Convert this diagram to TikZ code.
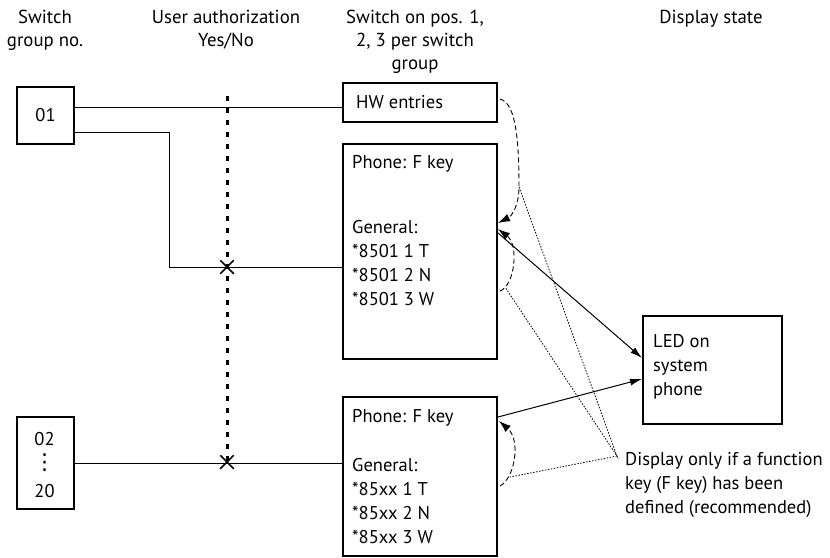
\documentclass[tikz,border=0pt]{standalone}
\usepackage{fontspec}
\setmainfont{PT Sans}
\newfontfamily\symfont{DejaVu Sans}
\usetikzlibrary{arrows.meta,shapes.misc}
\newcommand\mylinesL[1]{\begin{tabular}[t]{@{}l@{}}#1\end{tabular}}
\newcommand\mylinesC[1]{\begin{tabular}[t]{@{}c@{}}#1\end{tabular}}
\begin{document}
\begin{tikzpicture}[x=1pt,y=-1pt,
  every node/.style={font=\fontsize{18.5}{24}\selectfont, inner sep=0pt},
  box/.style={draw, line width=2pt, anchor=north west},
  txt/.style={anchor=base west},
  head/.style={anchor=base, font=\fontsize{18.8}{23}\selectfont},
  conn/.style={line width=1pt},
  authline/.style={line width=3pt, dash pattern=on 4.5pt off 7.5pt},
  brace/.style={line width=0.9pt, dash pattern=on 5pt off 3pt, -{Latex[length=12pt,width=8pt]}},
  hint/.style={line width=0.8pt, dash pattern=on 1.5pt off 1.5pt},
  signal/.style={line width=1pt, -{Latex[length=12pt,width=7pt]}},
  crossmark/.style={draw, cross out, minimum size=12pt, line width=1.5pt},
]
\useasboundingbox (0,0) rectangle (830,557);

% headers
\node[head] (h1) at (45,23) {\mylinesC{Switch\\group no.}};
\node[head] (h2) at (226,23) {\mylinesC{User authorization\\Yes/No}};
\node[head] (h3) at (415,23) {\mylinesC{Switch on pos. 1,\\2, 3 per switch\\group}};
\node[head] (h4) at (711,23) {Display state};

% switch group boxes
\node[box, minimum width=57pt, minimum height=57pt] (g1) at (16,86) {};
\node (g1t) at (g1.center) {01};
\node[box, minimum width=57pt, minimum height=92pt] (g2) at (16,416) {};
\node[anchor=base] (g2a) at (44.5,445) {02};
\node (g2b) at (44.5,463) {\symfont\fontsize{22}{22}\selectfont ⋮};
\node[anchor=base] (g2c) at (44.5,497) {20};

% switch boxes
\node[box, minimum width=154pt, minimum height=39pt] (hw) at (342,82) {};
\node[txt] (hwt) at (356,108) {HW entries};
\node[box, minimum width=154pt, minimum height=215pt] (p1) at (342,143) {};
\node[txt] (p1a) at (352,168) {Phone: F key};
\node[txt] (p1b) at (352,233) {\mylinesL{General:\\{*}8501 1 T\\{*}8501 2 N\\{*}8501 3 W}};
\node[box, minimum width=154pt, minimum height=159pt] (p2) at (342,396) {};
\node[txt] (p2a) at (352,422) {Phone: F key};
\node[txt] (p2b) at (352,471) {\mylinesL{General:\\{*}85xx 1 T\\{*}85xx 2 N\\{*}85xx 3 W}};

% display
\node[box, minimum width=139pt, minimum height=108pt] (led) at (642,315) {};
\node[txt] (ledt) at (653,347) {\mylinesL{LED on\\system\\phone}};
\node[txt] (note) at (625,465) {\mylinesL{Display only if a function\\key (F key) has been\\defined (recommended)}};

% authorization line and crosses
\coordinate (authtop) at (227,96);
\coordinate (corner) at (169,267);
\node[crossmark] (x1) at (227,267) {};
\node[crossmark] (x2) at (227,462) {};
\draw[authline] (authtop) -- (x2.center);

% connectors from switch groups
\draw[conn] ([yshift=8.5pt]g1.east) -- ([yshift=8.5pt]g1.east -| hw.west);
\draw[conn] ([yshift=-16.5pt]g1.east) -| (corner) -- (corner -| p1.west);
\draw[conn] (g2.east) -- (g2.east -| p2.west);

% signal arrows
\draw[signal] ([yshift=18.5pt]p1.east) -- ([yshift=12pt]led.west);
\draw[signal] ([yshift=59.5pt]p2.east) -- ([yshift=-9pt]led.west);

% dashed braces
\coordinate (s1) at ([xshift=2pt,yshift=3.5pt]hw.east);
\coordinate (b1) at (519,187);
\coordinate (t1) at ([yshift=28.5pt]p1.east);
\coordinate (s2) at ([xshift=2pt,yshift=-39.5pt]p1.east);
\coordinate (t2) at ([yshift=22.5pt]p1.east);
\coordinate (s3) at ([xshift=2pt,yshift=-9.5pt]p2.east);
\coordinate (t3) at ([xshift=1pt,yshift=55.5pt]p2.east);
\draw[brace] (s1) .. controls (514,103) and (519,130) .. (b1) .. controls (519,205) and (512,216) .. (t1);
\draw[brace] (s2) .. controls (515,285) and (519,245) .. (t2);
\draw[brace] (s3) .. controls (515,478) and (521,440) .. (t3);

% hint lines
\coordinate (hintpt) at (617,456);
\coordinate (h2) at (505,287);
\coordinate (h3) at (510,477);
\draw[hint] (b1) -- (hintpt) -- (h2);
\draw[hint] (hintpt) -- (h3);
\end{tikzpicture}
\end{document}
